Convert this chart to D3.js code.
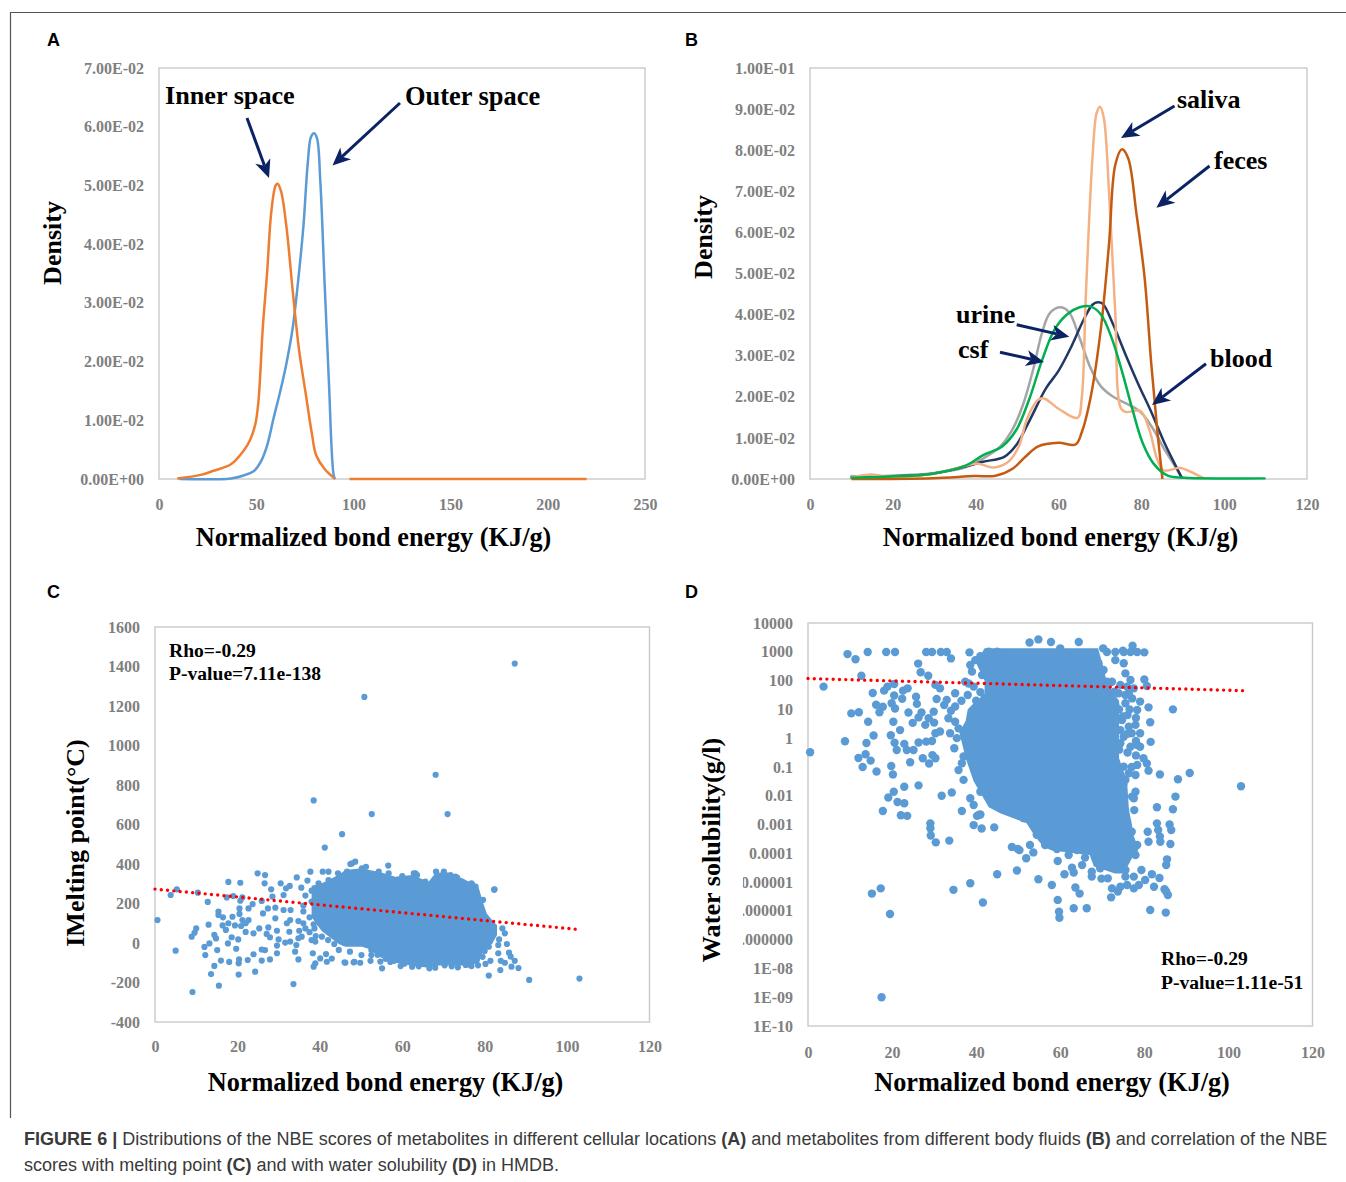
<!DOCTYPE html>
<html><head><meta charset="utf-8">
<style>html,body{margin:0;padding:0;background:#fff}svg{display:block}</style>
<script src="https://cdn.jsdelivr.net/npm/d3@7/dist/d3.min.js"></script>
</head><body><svg id="fig" width="1346" height="1182"></svg>
<script>
// ---------- Panel A: density curves [energy, density]
const innerSpace = [[9.4,.0001],[21.5,.0007],[28,.0014],[37,.0025],[43.5,.0048],[46.8,.0066],[49.6,.0094],[51.2,.0134],[53.4,.0258],[55.6,.0351],[57.8,.0456],[60,.05],[61,.0503],[62.8,.049],[65.5,.0431],[68.8,.032],[72,.0221],[75.4,.0147],[78.7,.0076],[80.8,.0041],[85.2,.0017],[90.3,.0001],null,[98,0],[220,0]];
const outerSpace = [[10.5,0],[37,.0001],[43.5,.0006],[49,.0014],[52.3,.0029],[55.6,.0057],[58.9,.0103],[62.2,.0147],[65.5,.0196],[68.8,.0258],[72,.0351],[74.3,.0431],[76.5,.0537],[78.2,.0583],[79.8,.0589],[81.3,.058],[83,.0506],[85.2,.0332],[87.4,.0165],[90,.0004],[90.7,0]];
const densityATicks = ["0.00E+00","1.00E-02","2.00E-02","3.00E-02","4.00E-02","5.00E-02","6.00E-02","7.00E-02"];
const energyATicks = [0,50,100,150,200,250];
// ---------- Panel B: density curves [energy, density]
const greyFluid = [[9.8,.0007],[19.5,.0008],[29.6,.0014],[37.7,.0029],[41.8,.005],[45.9,.0079],[48.9,.0121],[51.4,.018],[54,.0271],[56,.0355],[58,.0405],[60.6,.0418],[62.6,.0405],[65.1,.0343],[67.7,.0271],[70.2,.0226],[73.2,.02],[76.3,.0184],[79.8,.0163],[82.9,.0121],[85.4,.0075],[88,.0033],[89.7,.0004]];
const navyFluid = [[9.8,.0004],[19.5,.0006],[29.6,.0013],[37.7,.0031],[41.8,.0042],[46.9,.0054],[49.9,.0084],[53,.0142],[57,.0221],[60,.0263],[63.1,.0322],[66.1,.0388],[68.2,.0424],[69.5,.043],[70.7,.0426],[73.2,.0376],[76.3,.03],[79.3,.023],[82.4,.0163],[85.4,.0092],[88,.0038],[89.8,.0002]];
const peachFluid = [[9.8,.0004],[14.9,.0011],[18.5,.0006],[29.6,.0013],[37.7,.0032],[40.3,.0038],[44.3,.0028],[47.9,.0042],[50.4,.0079],[52.4,.0146],[55,.0192],[56.5,.0196],[60,.0171],[64.6,.0149],[65.6,.0196],[66.6,.0447],[68.2,.0781],[69.2,.089],[70,.0906],[70.9,.0881],[72.2,.0698],[73.7,.0405],[75.1,.0171],[76.3,.0163],[79.8,.0165],[81.9,.0121],[83.9,.0046],[85.4,.0021],[89.5,.0027],[92,.0017],[95,.0002]];
const brownFluid = [[10,0],[29.6,.0002],[39.8,.0007],[44.8,.0008],[48.9,.0025],[52,.0054],[55,.0079],[60,.0088],[64.1,.0084],[65.6,.0113],[67.7,.0196],[70.2,.0363],[72.2,.0572],[73.7,.0764],[75.3,.0802],[76.8,.0781],[78.8,.0647],[80.8,.0489],[82.4,.028],[83.9,.0113],[85.1,0]];
const greenFluid = [[9.8,.0003],[19.5,.0006],[29.6,.0013],[37.7,.0033],[41.8,.0058],[46.4,.0079],[49.9,.0121],[53,.0196],[56,.0288],[59,.0363],[62.1,.0401],[65.1,.0418],[67.7,.042],[70.2,.0401],[72.7,.0347],[75.3,.0263],[77.8,.0171],[80.3,.0088],[82.9,.0038],[86.4,.0008],[90.5,.0003],[110,.0002]];
const densityBTicks = ["0.00E+00","1.00E-02","2.00E-02","3.00E-02","4.00E-02","5.00E-02","6.00E-02","7.00E-02","8.00E-02","9.00E-02","1.00E-01"];
const energyTicks = [0,20,40,60,80,100,120];
// ---------- Panel C. Individually legible points [energy, melting point]
const meltingPoints = [[87.3,1415],[50.8,1246],[68.1,852],[38.5,722],[52.6,653],[71,653],[45.4,551],[41.2,483],[103,-180],[90.8,-187],[82.3,270],
[47.8,403],[48.6,412],[37.7,361],[40.7,361],[42.1,361],[24.9,353],[26.7,344],[17.8,309],[20.7,305],[26.6,302],[30.5,302],[34.4,332],[37,316],[5.3,272],[3.8,243],[10.4,255],[12.8,208],[0.6,116],
[17.4,231],[19,238],[20.7,214],[21.2,231],[23.7,197],[22.7,175],[25.9,213],[28.2,272],[28.5,235],[31.2,243],[32.7,289],[31.8,277],[15.4,159],[15.4,142],[16.5,130],[18.8,133],[20.5,175],[20.5,147],[21.2,116],[22.7,116],[22,100],
[26.2,150],[27.4,175],[29.2,179],[31.2,167],[32.9,167],[29.2,125],[32.8,116],[32,100],[34.8,111],[13,93],[10,74],[9.6,52],[8.9,32],[16.4,89],[17.8,100],[17.2,66],[19.4,89],[20.9,86],[22,56],[23.9,49],[25.3,74],[27.5,79],[27.1,46],[29.6,62],[27.9,29],[30,18],[32.6,57],[35,62],[36.5,74],[38.7,74],[38,15],[35.6,32],[40.5,32],[38.9,7],
[14.4,41],[14.8,23],[18.6,29],[20.2,18],[17.7,-2],[13.2,-2],[12,-20],[5,-39],[19.7,-29],[15.1,-36],[12.2,-61],[32.8,7],[31.6,2],[34.8,24],[34.3,-10],[29.6,-13],[34,-44],[26.7,-36],[25.9,-33],[23.9,-57],[29.6,-52],[27.9,-83],[25.9,-89],[22.5,-86],[20.4,-83],[20.3,-103],[18,-96],[16,-89],[14.4,-116],[13.6,-157],[20.3,-160],[24.3,-145],[15.5,-216],[9.1,-248],[33.6,-208],
[34.8,-83],[38.3,-52],[41.5,-56],[40.1,-78],[38.9,-103],[38.5,-120],[42.9,-79],[41.7,-95],[46,-98],[48.2,-98],[44.6,-35],
[47.4,400],[56.6,392],[51.2,386],[62.8,353],[63.6,344],[68.2,361],[70.1,361],[71.7,344],[73.3,331],[76.8,302],[77.8,285],[79.6,218],[82.4,272],
[84.3,74],[84.9,49],[85.4,-5],[83.5,18],[83.3,-10],[81,-19],[83.3,-52],[83.9,-90],[85.9,-49],[86.3,-69],[87.3,-90],[86.5,-120],[88.2,-127],[83.8,-137],[81,-165],[84.9,-100],[81.4,-90],[80.2,-106],[78.4,-113],[76.8,-117],[75.4,-111],[73.5,-123],[70.3,-113],[66.6,-128],[62.4,-120],[59.6,-117],[57.1,-96],[55.1,-128],[54.7,-94],[52.5,-36],[52.5,-61],[52.3,-90],[50.1,-61],[49.8,-100],[48.4,-96],[46.2,-100],[47.3,-44],
[36,160],[37.5,130],[36,190],[38,210],[39,180],[36.5,240],[35.5,280],[38,265],[40,150],[41,120],[40,100],[42,80],[43,60],[44,40],[45,20],[46,0],[36,100],[37.5,55],[39,35],[42,15],[43.5,-5],[38.5,95],
[50.2,378],[54.3,361],[56.7,353],[60,339],[63.2,353],[65.6,311],[68,311],[72.9,336],[74.5,311],[77,294],[44.4,353],[46.6,361],[42.1,319],[39.7,302],
[60.5,-105],[64,-118],[68,-125],[72,-118],[76,-108],[61,-95],[56,-80],[54,-60],[58,-90],[78,-90],[79.5,-70],[80,-40]];
// Overplotted core of panel C, where single points can't be read: its outline only.
const meltCoreEnergy = [38,40.5,44.6,46.2,50.2,52,54.3,58.3,62.4,66.4,68,70.5,73.7,77,78.6,79.4,80.5,81.8,83];
const meltCoreTop = [290,302,345,370,378,370,361,336,344,310,353,361,336,302,277,218,150,116,90];
const meltCoreBottom = [130,60,-5,-19,-19,-30,-70,-100,-115,-125,-115,-113,-115,-110,-100,-52,-20,-5,40];
const meltTicks = [-400,-200,0,200,400,600,800,1000,1200,1400,1600];
const meltTrend = [[0,273],[103,68]];
// ---------- Panel D. Individually legible points [energy, log10 solubility]
const solubilityPoints = [[9.4,2.92],[11.3,2.74],[14.2,2.99],[18.6,2.99],[20.7,2.99],[28.1,2.99],[29.5,2.99],[31.6,2.99],[33,2.99],[34,2.77],[38.4,2.98],[26.2,2.59],[26.8,2.29],[28.6,2.17],[12.7,2.17],[3.7,1.79],
[15.4,1.57],[18.1,1.65],[18.9,1.79],[20.5,1.88],[23.7,1.73],[22.6,1.65],[20.5,1.48],[22.4,1.37],[25.7,1.44],[25.9,1.19],[19.9,1.21],[16.2,1.16],[17.8,1.09],[17,.9],[20.7,1.03],[10.3,.86],[12.1,.9],[14.3,.57],[23.9,.89],[20.3,.57],[24.9,.53],[27,.89],[26.3,.72],[28.7,.69],[27.9,.46],[30,.54],[21.9,.28],[15.6,.09],[19.7,.1],[8.8,-.11],[13.9,-.17],[.5,-.49],[20.6,-.16],[21.1,-.41],[22.9,-.2],[23.5,-.41],[25.1,-.41],[26.3,-.15],[28.1,-.12],[29.5,-.1],[30.3,.17],[31.4,.23],[12,-.69],[13.7,-.56],[14.9,-.78],[13,-1],[16.3,-1.16],[19.8,-.97],[20.2,-1.26],[24.3,-.84],[27.3,-.7],[28.8,-.88],[29.6,-.59],[30.3,-.7],
[22.9,-1.69],[26.3,-1.64],[20.4,-1.86],[19.1,-2.06],[21.3,-2.22],[22.9,-2.26],[17.8,-2.53],[22.1,-2.68],[23.6,-2.7],[31.8,-2],[34.2,-1.89],[36.6,-2.53],[34.8,-.35],[35.8,-1.11],[37,-1.45],[38.6,-2.09],[39.4,-2.32],[40.6,-2.67],[41,-1.86],
[33,1.33],[30.6,1.36],[35,1.56],[31.4,1.73],[30.3,1.85],[32.4,1.15],[29.9,.92],[33.4,.69],[35,.57],[35.8,.34],[33.8,.17],[35.4,0],[37,-.64],[36.6,-.87],
[29.1,-2.96],[29.1,-3.13],[29.2,-3.38],[30.4,-3.62],[33.6,-3.56],[39.4,-3.02],[41.3,-3.14],[44.3,-3.1],[41,-2.65],[40.2,-2.7],[48.5,-3.78],[49.9,-3.85],[49.7,-4.6],[45,-4.73],[38.6,-5.04],[34.6,-5.27],[41.6,-5.71],[17.3,-5.22],[15.2,-5.4],[19.5,-6.11],[17.5,-9],
[50.3,-3.89],[51.9,-4.17],[53.6,-3.97],[52.8,-3.71],[54.8,-4.9],[58,-5.1],[59.4,-4.27],[61,-4.73],[62.8,-4.5],[63.2,-4.67],[63.6,-5.19],[64.6,-5.4],[59.4,-5.62],[59.7,-6.03],[59.8,-6.24],[63.2,-5.91],[66.3,-5.91],[65.2,-4.41],[65.9,-4.15],[67.5,-4.64],[67.5,-4.81],[69.8,-4.88],[71.3,-4.87],[72.1,-5.53],[73.7,-5.33],[72.3,-5.22],[74.3,-5.16],[75.9,-5.1],[77.5,-5.22],[78.7,-5.1],[80.2,-4.93],[81.8,-4.73],[83.6,-4.86],[82.3,-5.16],[84.8,-5.25],[85.2,-5.33],[85.6,-5.45],[79.3,-4.58],[77.5,-4.81],[75.5,-4.81],[81.4,-5.97],[85.1,-6.06],
[77.9,-1.86],[77.5,-2.09],[77.6,-2.5],[87.4,-2.03],[83,-2.4],[86.8,-2.47],[83,-2.96],[83.3,-3.19],[83.7,-3.42],[83.8,-3.6],[80.8,-3.25],[81,-3.6],[86,-3],[86.4,-3.19],[86.2,-3.68],[85.4,-4.21],[85.2,-4.41],[88,-1.43],
[54.8,3.43],[52.7,3.32],[57.8,3.34],[64.4,3.34],[60,3.12],[70.2,3.12],[77.2,3.21],[80,2.98],[74.9,3.04],[73.1,2.71],[75.1,2.6],[75.5,2.25],[76.7,2.02],[80,2.04],[80.6,1.81],[72.3,1.96],[72.9,1.61],[70.9,1.38],[76.3,1.56],[79,1.27],[78.3,.98],[81,1.07],[86.8,1],[74.9,.75],[73.5,.63],[81.4,.55],[77.9,.46],[79,.17],[81.5,-.13],[79,-.3],[79.8,-.7],[80.6,-.88],[78.3,-.93],[75.1,-.99],[81,-1.13],[83.7,-1.26],[90.8,-1.21],[77.9,-1.28],
[71.1,2.99],[73.1,2.99],[75.1,2.99],[76.7,2.99],[78.3,2.99],[69.1,2.6],[70.3,2.37],[71.1,1.96],[74.3,1.85],[75.9,1.79],[77.5,1.73],[73.9,1.56],[75.5,1.5],[77.1,1.38],[73.1,1.15],[75.5,1.21],[74.7,.63],[76.3,.4],[74.3,.28],[77,.17],[75.1,.05],[76.7,-.3],[78.3,-.24],[74.3,-.18],[73.9,-1.1],[76.3,-1.22],[75.5,-1.45],[77.1,-2.03],[103,-1.67],
[69.5,-4.52],[71.1,-4.35],[73.1,-4.52],[75.5,-4.58],[77.9,-4.06],[78.3,-3.71],[77,-3.25],[65.5,-3.9],[64,-3.89],[62,-4.06],[59.2,-3.85],[58,-3.71],[56.4,-3.71],[57.6,-3.48],[54.4,-3.36],[51.3,-2.78],
[41,2.85],[42.6,2.95],[43,3],[45,3],[39.8,2.71],[38.6,2.54],[39,2.31],[41.4,2.19],[43,2.6],[44,2.2],[38.2,1.9],[39.4,1.79],[41,1.6],[42,1.4],[40,1.3],[36.5,1.3],[38,1.5],[35,1.1],[34,.95],[37.4,1.96],
[72.3,1.2],[74,1],[76.5,1],[72.5,.9],[76,.8],[78,.7],[76,.15],[78,-.1],[74,-.4],[76,-.5],[78,-.6],[72.5,-.5],[74,-1.3],[73,-1.2],[75,-1.6],[77,-1]];
// Overplotted core of panel D, where single points can't be read: its outline only.
const solCoreLog = [3.12,2.6,2,1.5,1.3,1,.6,.2,-.7,-1.5,-2.4,-2.61,-2.96,-3.42,-3.77,-3.9,-4.06,-4.46,-4.7];
const solCoreLeft = [42,40,42,42,40,38,37.5,36,37.5,39.4,43,45.7,52,54,56,58,67,68,73];
const solCoreRight = [69,70,71,73,74,74,74,74,74,75.9,76.3,76.5,77,77.5,78.5,78.5,77.5,76,75];
const solTicks = [-10,-9,-8,-7,-6,-5,-4,-3,-2,-1,0,1,2,3,4];
const solTickLabels = ["1E-10","1E-09","1E-08","0.000000","0.000001","0.00001","0.0001","0.001","0.01","0.1","1","10","100","1000","10000"];
const solTrend = [[0,2.07],[103.5,1.65]];

// ---------- Layout and style
const serif = "'Liberation Serif','Times New Roman',serif", sans = "'Liberation Sans',Arial,sans-serif";
const GREY = "#7f7f7f", FRAME = "#c9c9c9", DOT = "#5b9bd5", NAVY = "#0b2265", RED = "#ff0000";
const boxA = {l:159,r:645,t:68,b:479,pad:19.5}, boxB = {l:810,r:1307,t:68,b:479,pad:20}, boxC = {l:155,r:649.5,t:627,b:1022,pad:19}, boxD = {l:808,r:1312.5,t:623,b:1026,pad:20.5};
const svg = d3.select("#fig");
svg.append("rect").attr("width",1346).attr("height",1182).attr("fill","#fff");
svg.append("path").attr("d","M1346,12.5H10.5V1118").attr("fill","none").attr("stroke","#555").attr("stroke-width",1.2);

function frame(box, x, y, yValues, yFmt, xValues){
  svg.append("rect").attr("x",box.l).attr("y",box.t).attr("width",box.r-box.l).attr("height",box.b-box.t).attr("fill","none").attr("stroke",FRAME).attr("stroke-width",1.4);
  const ga = svg.append("g").attr("transform",`translate(${box.l},0)`).call(d3.axisLeft(y).tickValues(yValues).tickFormat(yFmt).tickSize(0).tickPadding(15));
  const gb = svg.append("g").attr("transform",`translate(0,${box.b})`).call(d3.axisBottom(x).tickValues(xValues).tickFormat(String).tickSize(0).tickPadding(box.pad));
  [ga,gb].forEach(g=>{g.select(".domain").remove();g.selectAll("text").attr("font-family",serif).attr("font-size",16).attr("font-weight","bold").attr("fill",GREY);});
}
function drawCurve(x,y,data,color){
  svg.append("path").attr("d",d3.line().defined(d=>d).x(d=>x(d[0])).y(d=>y(d[1])).curve(d3.curveCatmullRom.alpha(.5))(data)).attr("fill","none").attr("stroke",color).attr("stroke-width",2.5).attr("stroke-linejoin","round");
}
function label(txt,xp,yp,size,rot,anchor){
  const t = svg.append("text").text(txt).attr("font-family",serif).attr("font-weight","bold").attr("font-size",size).attr("fill","#000").attr("text-anchor",anchor||"start");
  if(rot) t.attr("transform",`translate(${xp},${yp}) rotate(-90)`); else t.attr("x",xp).attr("y",yp);
}
function letter(txt,xp,yp){ svg.append("text").text(txt).attr("x",xp).attr("y",yp).attr("font-family",sans).attr("font-weight","bold").attr("font-size",18).attr("fill","#000"); }
function arrow(x1,y1,x2,y2){
  const a=Math.atan2(y2-y1,x2-x1), L=18, W=8, N=13;
  const p=(d,s)=>[x2-Math.cos(a)*d-Math.sin(a)*s, y2-Math.sin(a)*d+Math.cos(a)*s];
  svg.append("line").attr("x1",x1).attr("y1",y1).attr("x2",p(N,0)[0]).attr("y2",p(N,0)[1]).attr("stroke",NAVY).attr("stroke-width",3);
  svg.append("polygon").attr("points",[[x2,y2],p(L,W),p(N,0),p(L,-W)].map(q=>q.join(",")).join(" ")).attr("fill",NAVY);
}

// ---------- Panel A
{
  const x=d3.scaleLinear().domain([0,250]).range([boxA.l,boxA.r]), y=d3.scaleLinear().domain([0,.07]).range([boxA.b,boxA.t]);
  frame(boxA,x,y,d3.range(densityATicks.length).map(i=>i*.01),(d,i)=>densityATicks[i],energyATicks);
  drawCurve(x,y,outerSpace,"#5b9bd5"); drawCurve(x,y,innerSpace,"#ed7d31");
  letter("A",47,46);
  label("Inner space",165,104,26.2); label("Outer space",405,105,26.4);
  arrow(247,118,269,178); arrow(400,103,332.5,165.5);
  label("Normalized bond energy (KJ/g)",373.5,546,26.3,0,"middle");
  label("Density",61,243,26,true,"middle");
}
// ---------- Panel B
{
  const x=d3.scaleLinear().domain([0,120]).range([boxB.l,boxB.r]), y=d3.scaleLinear().domain([0,.1]).range([boxB.b,boxB.t]);
  frame(boxB,x,y,d3.range(densityBTicks.length).map(i=>i*.01),(d,i)=>densityBTicks[i],energyTicks);
  drawCurve(x,y,greyFluid,"#a5a5a5"); drawCurve(x,y,navyFluid,"#203864"); drawCurve(x,y,peachFluid,"#f4b183"); drawCurve(x,y,brownFluid,"#c55a11"); drawCurve(x,y,greenFluid,"#00b050");
  letter("B",685,46);
  label("saliva",1177,108,26); label("feces",1214,169,26); label("blood",1210,367,26); label("urine",956,323,26); label("csf",958,358,26);
  arrow(1174.5,106,1121,138); arrow(1209.5,166,1156.4,207.7); arrow(1206,363.7,1152,405); arrow(1016.7,324.8,1069.3,336.8); arrow(1000,352.3,1044,362);
  label("Normalized bond energy (KJ/g)",1060.5,546,26.3,0,"middle");
  label("Density",712,237,26,true,"middle");
}
// ---------- Panel C
{
  const x=d3.scaleLinear().domain([0,120]).range([boxC.l,boxC.r]), y=d3.scaleLinear().domain([-400,1600]).range([boxC.b,boxC.t]);
  frame(boxC,x,y,meltTicks,String,energyTicks);
  svg.append("path").attr("fill",DOT).attr("d",d3.area().x(d=>x(d)).y0((d,i)=>y(meltCoreBottom[i])).y1((d,i)=>y(meltCoreTop[i]))(meltCoreEnergy));
  svg.append("g").selectAll("circle").data(meltingPoints).join("circle").attr("cx",d=>x(d[0])).attr("cy",d=>y(d[1])).attr("r",3.1).attr("fill",DOT);
  svg.append("path").attr("d",d3.line().x(d=>x(d[0])).y(d=>y(d[1]))(meltTrend)).attr("stroke",RED).attr("stroke-width",3.4).attr("stroke-linecap","round").attr("stroke-dasharray","0 6.3").attr("fill","none");
  letter("C",47,598);
  label("Rho=-0.29",169,657,19.6); label("P-value=7.11e-138",169,680,19.6);
  label("Normalized bond energy (KJ/g)",385.5,1091,26.3,0,"middle");
  label("IMelting point(°C)",84,843,26,true,"middle");
}
// ---------- Panel D
{
  const x=d3.scaleLinear().domain([0,120]).range([boxD.l,boxD.r]), y=d3.scaleLog().domain([1e-10,1e4]).range([boxD.b,boxD.t]);
  const p10=v=>Math.pow(10,v);
  frame(boxD,x,y,solTicks.map(p10),(d,i)=>solTickLabels[i],energyTicks);
  svg.append("path").attr("fill",DOT).attr("d",d3.area().y(d=>y(p10(d))).x0((d,i)=>x(solCoreLeft[i])).x1((d,i)=>x(solCoreRight[i]))(solCoreLog));
  svg.append("g").selectAll("circle").data(solubilityPoints).join("circle").attr("cx",d=>x(d[0])).attr("cy",d=>y(p10(d[1]))).attr("r",4.2).attr("fill",DOT);
  svg.append("path").attr("d",d3.line().x(d=>x(d[0])).y(d=>y(p10(d[1])))(solTrend)).attr("stroke",RED).attr("stroke-width",3.4).attr("stroke-linecap","round").attr("stroke-dasharray","0 6.3").attr("fill","none");
  // the narrow label gutter of the source crops the longest tick labels on the left
  svg.append("rect").attr("x",700).attr("y",840).attr("width",43).attr("height",110).attr("fill","#fff");
  letter("D",685,598);
  label("Rho=-0.29",1161,965,19.6); label("P-value=1.11e-51",1161,989,19.6);
  label("Normalized bond energy (KJ/g)",1052,1091,26.3,0,"middle");
  label("Water solubility(g/l)",720,850,26.2,true,"middle");
}
// ---------- Caption
const caption = [
  [1145,[["FIGURE 6 | ",1],["Distributions of the NBE scores of metabolites in different cellular locations ",0],["(A)",1],[" and metabolites from different body fluids ",0],["(B)",1],[" and correlation of the NBE",0]]],
  [1171,[["scores with melting point ",0],["(C)",1],[" and with water solubility ",0],["(D)",1],[" in HMDB.",0]]]
];
caption.forEach(([yy,runs])=>{
  const t=svg.append("text").attr("x",24).attr("y",yy).attr("font-family",sans).attr("font-size",18.05).attr("fill","#3a3a3a").attr("xml:space","preserve");
  runs.forEach(r=>t.append("tspan").text(r[0]).attr("font-weight",r[1]?"bold":"normal"));
});
</script></body></html>
